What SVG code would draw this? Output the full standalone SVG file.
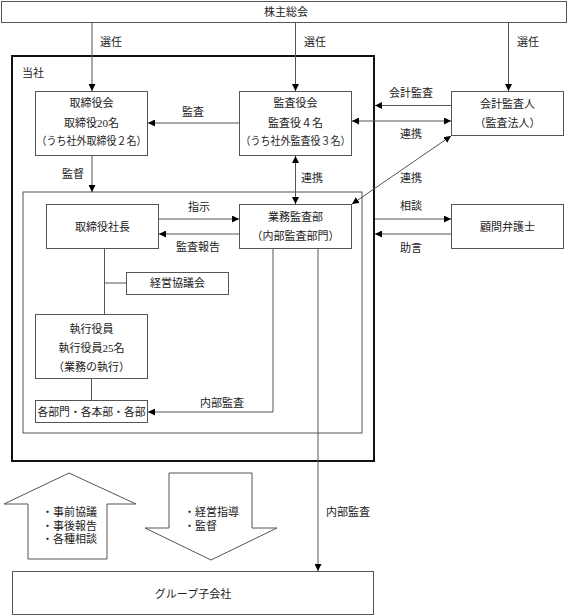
<svg xmlns="http://www.w3.org/2000/svg" width="568" height="616" viewBox="0 0 568 616">
<style>
text{font-family:"Liberation Serif","Noto Sans CJK JP",serif;font-size:11px;fill:#222;text-anchor:middle;dominant-baseline:central}
.b{fill:#fff;stroke:#555;stroke-width:1}
.o{fill:none;stroke:#111;stroke-width:2}
.c path{fill:none;stroke:#555;stroke-width:1}
.l{text-anchor:start}
</style>
<defs>
<marker id="ah" viewBox="0 0 10 10" refX="10" refY="5" markerWidth="7" markerHeight="7" orient="auto-start-reverse" markerUnits="userSpaceOnUse"><path d="M0,0 L10,5 L0,10z" fill="#000"/></marker>
</defs>
<rect width="568" height="616" fill="#fff"/>
<g id="company"><rect class="o" x="12" y="56" width="362" height="405"/><text x="33" y="73">当社</text></g>
<g id="inner"><rect x="23" y="192" width="339" height="241" fill="none" stroke="#555"/></g>
<g id="agm"><rect class="b" x="1.5" y="1.5" width="565" height="21"/><text x="286" y="12">株主総会</text></g>
<g id="board"><rect class="b" x="35.5" y="91.5" width="112" height="64"/><text x="91.5" y="103">取締役会</text><text x="91.5" y="123">取締役20名</text><text x="91.5" y="141" textLength="110" lengthAdjust="spacingAndGlyphs">（うち社外取締役２名）</text></g>
<g id="kansayaku"><rect class="b" x="239.5" y="91.5" width="112" height="64"/><text x="295.5" y="103">監査役会</text><text x="295.5" y="123">監査役４名</text><text x="295.5" y="141" textLength="110" lengthAdjust="spacingAndGlyphs">（うち社外監査役３名）</text></g>
<g id="auditor"><rect class="b" x="451.5" y="91.5" width="112" height="44"/><text x="507.5" y="104">会計監査人</text><text x="507.5" y="123">（監査法人）</text></g>
<g id="president"><rect class="b" x="46.5" y="204.5" width="112" height="44"/><text x="102.5" y="227">取締役社長</text></g>
<g id="audit-dept"><rect class="b" x="239.5" y="204.5" width="112" height="44"/><text x="295.5" y="217">業務監査部</text><text x="295.5" y="236">（内部監査部門）</text></g>
<g id="lawyer"><rect class="b" x="451.5" y="204.5" width="112" height="44"/><text x="507.5" y="227">顧問弁護士</text></g>
<g id="council"><rect class="b" x="126.5" y="272.5" width="102" height="22"/><text x="177.5" y="283">経営協議会</text></g>
<g id="officers"><rect class="b" x="35.5" y="314.5" width="112" height="64"/><text x="91.5" y="329">執行役員</text><text x="91.5" y="348">執行役員25名</text><text x="91.5" y="367">（業務の執行）</text></g>
<g id="depts"><rect class="b" x="35.5" y="400.5" width="112" height="22"/><text x="91.5" y="411.5" textLength="108" lengthAdjust="spacingAndGlyphs">各部門・各本部・各部</text></g>
<g id="up-arrow"><polygon class="b" points="69,473 136,504 107,504 107,559 28,559 28,504 4,504"/><text class="l" x="42" y="512">・事前協議</text><text class="l" x="42" y="525.5">・事後報告</text><text class="l" x="42" y="539">・各種相談</text></g>
<g id="down-arrow"><polygon class="b" points="169,473 252,473 252,528 277,528 211,560 145,528 169,528"/><text class="l" x="184" y="512">・経営指導</text><text class="l" x="184" y="525.5">・監督</text></g>
<g id="group"><rect class="b" x="12.5" y="571.5" width="361" height="43"/><text x="193" y="594">グループ子会社</text></g>
<g class="c" id="connectors">
<path d="M92,23V91" marker-end="url(#ah)"/>
<path d="M295.5,23V91" marker-end="url(#ah)"/>
<path d="M508.5,23V91" marker-end="url(#ah)"/>
<path d="M239,123H148" marker-end="url(#ah)"/>
<path d="M451,105.5H375" marker-end="url(#ah)"/>
<path d="M352,121H451" marker-start="url(#ah)" marker-end="url(#ah)"/>
<path d="M451,136L352,204" marker-start="url(#ah)" marker-end="url(#ah)"/>
<path d="M295.5,156V204" marker-start="url(#ah)" marker-end="url(#ah)"/>
<path d="M92,156V192" marker-end="url(#ah)"/>
<path d="M159,219H239" marker-end="url(#ah)"/>
<path d="M239,234H159" marker-end="url(#ah)"/>
<path d="M104.5,249V314"/>
<path d="M104.5,283H126"/>
<path d="M91.5,379V400"/>
<path d="M273,249V412H148" marker-end="url(#ah)"/>
<path d="M318,249V571" marker-end="url(#ah)"/>
<path d="M375,219H451" marker-end="url(#ah)"/>
<path d="M451,234H375" marker-end="url(#ah)"/>
</g>
<g id="labels">
<text x="111" y="42">選任</text><text x="315" y="42">選任</text><text x="528" y="42">選任</text>
<text x="193" y="112">監査</text>
<text x="411" y="93">会計監査</text>
<text x="411" y="134">連携</text>
<text x="411" y="178">連携</text>
<text x="312" y="178">連携</text>
<text x="73" y="174">監督</text>
<text x="199" y="207">指示</text>
<text x="198" y="247">監査報告</text>
<text x="411" y="206">相談</text>
<text x="411" y="248">助言</text>
<text x="222" y="403">内部監査</text>
<text x="348" y="512">内部監査</text>
</g>
</svg>
